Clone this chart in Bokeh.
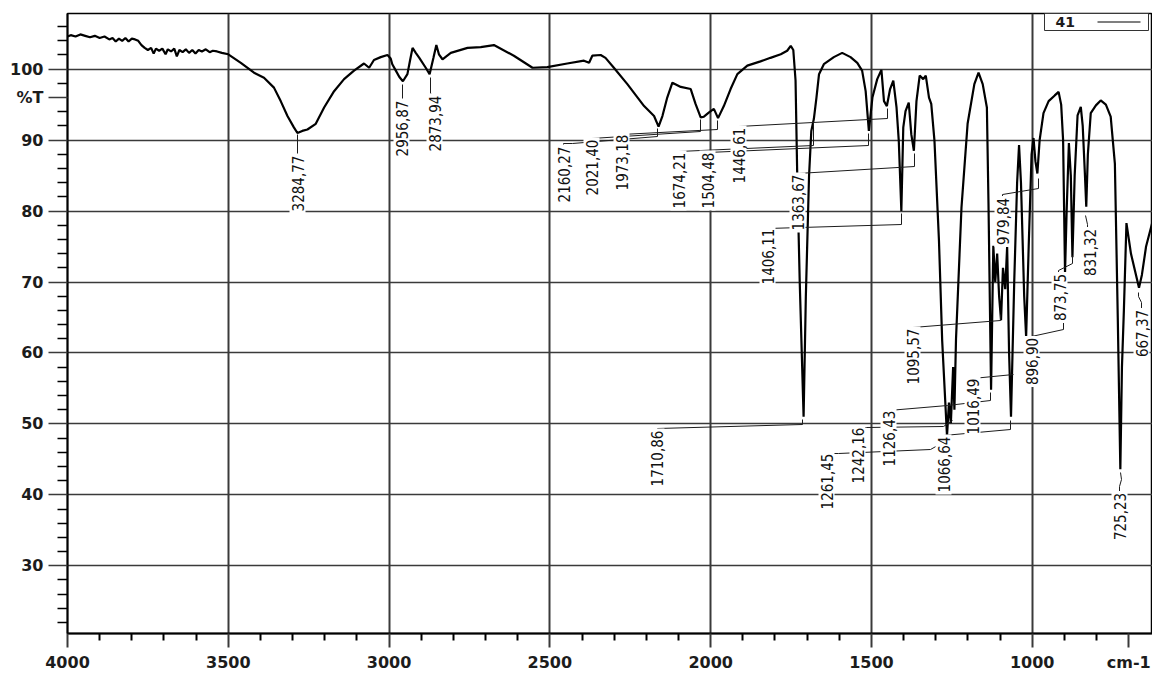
import math
from bokeh.plotting import figure
from bokeh.models import Range1d, FixedTicker, Label
from bokeh.embed import file_html
from bokeh.resources import INLINE

# ---------------- data ----------------
wavenumber = [
    4000, 3990, 3975, 3960, 3945, 3930, 3915, 3900, 3885, 3870, 3860, 3850, 3840, 3830, 3820,
    3810, 3800, 3790, 3780, 3770, 3760, 3750, 3740, 3732, 3725, 3715, 3705, 3695, 3688, 3678,
    3668, 3660, 3652, 3642, 3632, 3622, 3612, 3602, 3592, 3582, 3570, 3558, 3548, 3535, 3520,
    3500, 3461, 3420, 3389, 3358, 3337, 3316, 3296, 3285, 3270, 3254, 3228, 3202, 3171, 3140,
    3109, 3078, 3062, 3047, 3026, 3005, 2995, 2990, 2979, 2968, 2957, 2943, 2935, 2927, 2917,
    2906, 2886, 2874, 2862, 2853, 2845, 2834, 2808, 2756, 2715, 2674, 2612, 2554, 2508, 2446,
    2394, 2378, 2368, 2342, 2327, 2301, 2259, 2207, 2176, 2162, 2150, 2135, 2119, 2093, 2062,
    2047, 2031, 2021, 2005, 1990, 1977, 1959, 1938, 1917, 1886, 1845, 1814, 1782, 1762, 1751,
    1743, 1736, 1731, 1723, 1711, 1704, 1694, 1687, 1679, 1671, 1663, 1648, 1617, 1591, 1565,
    1544, 1529, 1518, 1508, 1497, 1482, 1469, 1461, 1452, 1442, 1432, 1422, 1415, 1407, 1401,
    1394, 1384, 1376, 1368, 1360, 1350, 1339, 1331, 1321, 1314, 1304, 1290, 1280, 1265, 1259,
    1253, 1246, 1242, 1237, 1220, 1201, 1180, 1167, 1154, 1141, 1136, 1128, 1121, 1115, 1109,
    1103, 1097, 1091, 1084, 1078, 1072, 1066, 1056, 1047, 1041, 1035, 1025, 1019, 1011, 1002,
    996, 990, 984, 977, 965, 949, 930, 918, 910, 904, 898, 893, 886, 880, 875,
    868, 859, 849, 843, 836, 832, 827, 818, 802, 787, 771, 756, 743, 734, 726,
    721, 715, 707, 693, 668, 659, 646, 626,
]
transmittance = [
    104.6, 104.8, 104.6, 104.9, 104.7, 104.5, 104.7, 104.4, 104.6, 104.2, 104.4, 103.9, 104.3, 104.0, 104.4,
    103.9, 104.3, 104.2, 104.0, 103.4, 103.0, 102.7, 103.0, 102.2, 102.9, 102.6, 102.9, 102.1, 102.8, 102.5,
    102.9, 101.8, 102.7, 102.4, 102.8, 102.3, 102.7, 102.2, 102.7, 102.5, 102.8, 102.4, 102.6, 102.5, 102.3,
    102.1, 100.9, 99.5, 98.8, 97.4, 95.5, 93.4, 91.8, 91.0, 91.3, 91.5, 92.3, 94.6, 96.9, 98.6,
    99.8, 100.8, 100.2, 101.3, 101.7, 102.0, 101.5, 100.7, 99.8, 98.9, 98.3, 99.3, 101.2, 103.0, 102.3,
    101.6, 100.2, 99.3, 101.6, 103.4, 102.1, 101.4, 102.3, 103.0, 103.1, 103.4, 101.9, 100.2, 100.3, 100.8,
    101.2, 100.9, 101.9, 102.0, 101.6, 100.2, 97.9, 94.8, 93.4, 91.9, 93.4, 96.0, 98.1, 97.5, 97.2,
    95.1, 93.2, 93.3, 93.9, 94.4, 93.1, 94.8, 97.2, 99.3, 100.5, 101.1, 101.6, 102.1, 102.6, 103.3,
    102.7, 98.4, 85.7, 70.0, 51.0, 68.0, 85.0, 91.3, 93.0, 96.0, 99.3, 100.7, 101.7, 102.3, 101.7,
    100.9, 99.8, 96.9, 91.3, 96.0, 98.6, 99.9, 95.5, 94.8, 97.2, 98.4, 94.6, 89.9, 80.0, 91.8,
    94.1, 95.3, 90.8, 88.5, 95.5, 99.1, 98.6, 99.1, 96.0, 95.1, 89.9, 75.8, 61.7, 48.3, 53.0,
    50.1, 58.0, 52.0, 62.0, 80.5, 92.3, 97.9, 99.5, 97.9, 94.6, 81.0, 54.8, 75.1, 70.0, 74.0,
    68.0, 64.6, 72.0, 69.0, 75.0, 60.0, 51.0, 70.0, 84.0, 89.3, 84.0, 68.0, 62.3, 75.0, 88.0,
    90.3, 87.0, 85.3, 90.0, 93.8, 95.5, 96.3, 96.8, 95.0, 90.0, 71.3, 80.0, 89.6, 85.0, 73.5,
    85.0, 93.5, 94.7, 92.0, 85.0, 80.6, 88.0, 93.8, 94.9, 95.6, 95.0, 93.3, 86.7, 65.0, 43.6,
    58.0, 66.0, 78.3, 74.0, 69.2, 71.0, 75.0, 78.5,
]
peak_labels = [
    "3284,77", "2956,87", "2873,94", "2160,27", "2021,40", "1973,18", "1674,21", "1504,48",
    "1446,61", "1406,11", "1363,67", "1710,86", "1261,45", "1242,16", "1126,43", "1095,57",
    "1066,64", "1016,49", "979,84", "896,90", "873,75", "831,32", "725,23", "667,37",
]
x_ticks = [4000, 3500, 3000, 2500, 2000, 1500, 1000]
y_ticks = [30, 40, 50, 60, 70, 80, 90, 100]
series_name = "41"
x_unit = "cm-1"
y_unit = "%T"

# ---------------- layout (pixels / positions) ----------------
W, H = 1152, 679
ML, MR, MT, MB = 67, 0, 13, 46
XR = (4000, 626)
YR = (20.45, 107.85)
FW, FH = W - ML - MR, H - MT - MB
X_UNIT_POS = 700   # unit caption sits under the right end of the x axis
Y_UNIT_POS = 96    # unit caption sits beside the upper part of the y axis
x_minor_ticks = [w for w in range(4000, 600, -100) if w % 500 != 0 and w != X_UNIT_POS]
y_minor_ticks = [v for v in range(22, 108, 2) if v % 10 != 0 and v != Y_UNIT_POS]


def X(px):
    return XR[0] + (px - ML) * (XR[1] - XR[0]) / FW


def Y(py):
    return YR[1] - (py - MT) * (YR[1] - YR[0]) / FH


label_layout = [
    ((297, 183), [(297, 134), (297, 160)]),
    ((401, 128), [(402, 84), (402, 101)]),
    ((434, 123), [(430, 77), (430, 93), (434, 96)]),
    ((563, 174), [(563, 147), (563, 143), (572, 143), (657, 136), (657, 128)]),
    ((591, 167), [(591, 143), (591, 138), (700, 131), (700, 119)]),
    ((621, 162), [(621, 138), (621, 134), (717, 129), (717, 120)]),
    ((678, 180), [(678, 155), (678, 151), (813, 145), (813, 121)]),
    ((707, 180), [(707, 157), (707, 152), (868, 145), (868, 133)]),
    ((738, 155), [(738, 132), (738, 126), (887, 118), (887, 108)]),
    ((767, 256), [(767, 232), (767, 228), (901, 224), (901, 213)]),
    ((797, 202), [(797, 178), (797, 173), (914, 166), (914, 153)]),
    ((656, 458), [(657, 433), (657, 428), (802, 424), (802, 419)]),
    ((826, 481), [(826, 457), (826, 453), (838, 453), (930, 449), (946, 440)]),
    ((857, 455), [(857, 430), (857, 427), (866, 427), (943, 426), (952, 420)]),
    ((888, 438), [(888, 417), (888, 410), (947, 405), (990, 400), (990, 392)]),
    ((912, 356), [(912, 333), (912, 327), (1000, 320), (1000, 314)]),
    ((943, 464), [(943, 438), (943, 435), (1010, 429), (1010, 420)]),
    ((972, 406), [(972, 382), (972, 378), (1013, 374)]),
    ((1002, 221), [(1002, 198), (1002, 194), (1038, 188), (1038, 178)]),
    ((1031, 361), [(1031, 342), (1031, 336), (1063, 329), (1063, 318)]),
    ((1059, 297), [(1058, 277), (1058, 270), (1072, 263), (1072, 255)]),
    ((1089, 252), [(1087, 232), (1087, 224), (1085, 215)]),
    ((1119, 516), [(1119, 492), (1119, 486), (1121, 479), (1120, 472)]),
    ((1141, 333), [(1141, 308), (1141, 302), (1138, 296), (1138, 292)]),
]

INK = "#1c1c1c"
GRID = "#3a3a3a"
TICK_FONT = "DejaVu Sans"
PEAK_FONT = "'Liberation Sans Narrow', 'DejaVu Sans Condensed', 'Roboto', sans-serif"

p = figure(
    width=W, height=H,
    x_range=Range1d(*XR), y_range=Range1d(*YR),
    output_backend="svg", toolbar_location=None,
    min_border_left=ML, min_border_right=MR, min_border_top=MT, min_border_bottom=MB,
    background_fill_color="white", border_fill_color="white",
)
p.outline_line_color = "black"
p.outline_line_width = 1.5

# axes
for ax in (p.xaxis, p.yaxis):
    ax.axis_line_color = "black"
    ax.axis_line_width = 2
    ax.major_tick_line_color = GRID
    ax.minor_tick_line_color = "black"
    ax.major_tick_in = 0
    ax.minor_tick_in = 0
    ax.major_label_text_font = TICK_FONT
    ax.major_label_text_font_style = "bold"
    ax.major_label_text_font_size = "16px"
    ax.major_label_text_color = INK
    ax.major_label_standoff = 5

p.xaxis.ticker = FixedTicker(ticks=x_ticks + [X_UNIT_POS], minor_ticks=x_minor_ticks)
p.xaxis.major_label_overrides = {X_UNIT_POS: x_unit}
p.xaxis.major_tick_out = 14
p.xaxis.major_tick_line_width = 2
p.xaxis.minor_tick_out = 7
p.xaxis.minor_tick_line_width = 2

p.yaxis.ticker = FixedTicker(ticks=y_ticks + [Y_UNIT_POS], minor_ticks=y_minor_ticks)
p.yaxis.major_label_overrides = {Y_UNIT_POS: y_unit}
p.yaxis.major_tick_out = 19
p.yaxis.major_tick_line_width = 1.5
p.yaxis.minor_tick_out = 10
p.yaxis.minor_tick_line_width = 1.5

p.xgrid.ticker = FixedTicker(ticks=x_ticks)
p.ygrid.ticker = FixedTicker(ticks=y_ticks)
p.xgrid.grid_line_color = GRID
p.xgrid.grid_line_width = 2
p.ygrid.grid_line_color = GRID
p.ygrid.grid_line_width = 1.5

# spectrum
p.line(wavenumber, transmittance, line_color="black", line_width=2.2)

# leader lines
xs = [[X(px) for px, py in pts] for _, pts in label_layout]
ys = [[Y(py) for px, py in pts] for _, pts in label_layout]
p.multi_line(xs, ys, line_color=INK, line_width=1)

# peak labels
for text, ((cx, cy), _) in zip(peak_labels, label_layout):
    p.add_layout(Label(
        x=X(cx), y=Y(cy), text=text, angle=math.pi / 2,
        text_align="center", text_baseline="middle",
        text_font=PEAK_FONT, text_font_size="15px", text_color="#111111",
        background_fill_color="white", padding=2,
    ))

# legend box (name left, line sample right)
p.quad(left=[X(1044)], right=[X(1148)], top=[Y(13)], bottom=[Y(30)],
       fill_color="white", line_color="#333333", line_width=1)
p.segment(x0=[X(1097)], y0=[Y(21.5)], x1=[X(1140)], y1=[Y(21.5)], line_color="black", line_width=1.2)
p.add_layout(Label(x=X(1055), y=Y(21.5), text=series_name, text_align="left", text_baseline="middle",
                   text_font=TICK_FONT, text_font_style="bold", text_font_size="14px",
                   text_color=INK))

open("out.html", "w").write(file_html(p, INLINE))
